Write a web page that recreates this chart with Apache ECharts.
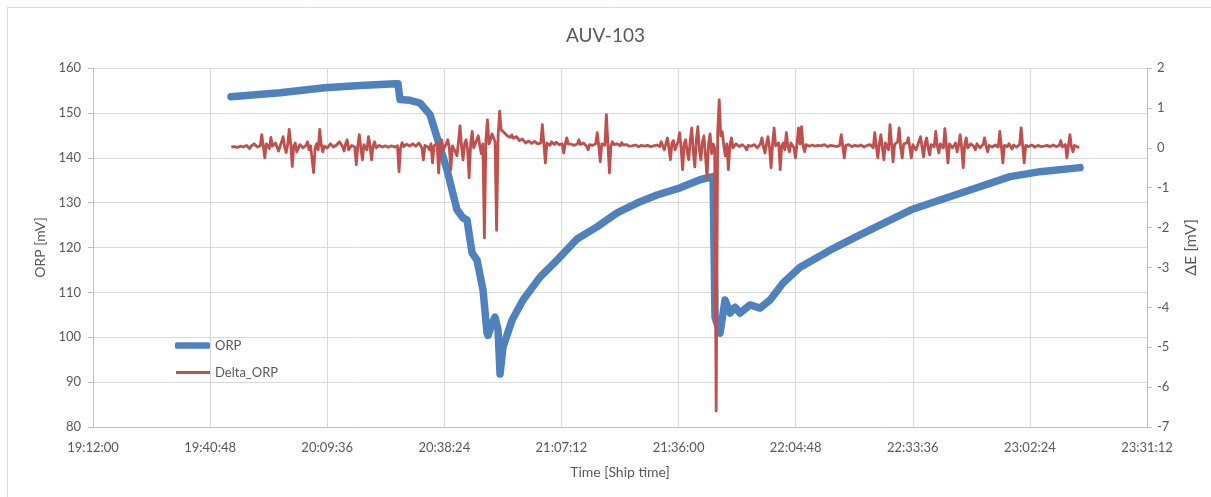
<!DOCTYPE html>
<html>
<head>
<meta charset="utf-8">
<script src="https://cdn.jsdelivr.net/npm/echarts@6/dist/echarts.min.js"></script>
<style>
html,body{margin:0;padding:0;background:#fff;}
#chart{width:1211px;height:497px;}
</style>
</head>
<body>
<div id="chart"></div>
<script>
// ---- DATA ----
const title = "AUV-103";
const xTickLabels = ["19:12:00","19:40:48","20:09:36","20:38:24","21:07:12","21:36:00","22:04:48","22:33:36","23:02:24","23:31:12"];
const leftTicks = [80, 90, 100, 110, 120, 130, 140, 150, 160];
const rightTicks = [-7, -6, -5, -4, -3, -2, -1, 0, 1, 2];

// ORP [mV] (left axis)
const orpTime = ["19:45:56","19:58:00","20:09:00","20:17:40","20:26:16","20:27:00","20:27:30","20:29:58","20:32:25","20:34:53",
  "20:39:04","20:41:31","20:43:00","20:43:59","20:45:13","20:46:26","20:47:55","20:48:54","20:49:09","20:50:08",
  "20:50:52","20:51:37","20:52:06","20:52:50","20:55:03","20:57:45","21:01:56","21:06:07","21:11:02","21:15:57",
  "21:20:52","21:25:47","21:30:43","21:36:22","21:41:17","21:44:29","21:44:58","21:46:12","21:47:26","21:48:40",
  "21:49:53","21:51:07","21:53:35","21:56:02","21:58:30","22:01:42","22:05:53","22:13:16","22:20:38","22:28:01",
  "22:33:11","22:40:19","22:47:41","22:57:32","23:04:55","23:14:45"];
const orpValue = [153.6,154.5,155.6,156.1,156.5,156.5,153.0,152.8,152.2,149.6,
  137.3,128.4,126.6,126.1,118.8,117.2,110.5,100.9,100.4,103.1,
  104.5,101.6,91.8,97.8,103.8,108.3,113.4,117.2,121.9,124.6,
  127.7,129.9,131.7,133.3,135.1,135.8,104.5,100.9,108.3,105.4,
  106.7,105.4,107.2,106.5,108.3,112.1,115.6,119.4,122.8,126.1,
  128.4,130.6,132.8,135.8,136.9,137.8];

// Delta_ORP [mV] (right axis), logged every 22.5 s from 19:46:00
const deltaStart = "19:46:00";
const deltaStepSec = 22.5;
const deltaValue = [
  0.02,0.0,0.03,0.05,0.01,0.03,0.04,0.0,0.02,0.07,0.06,0.01,-0.02,0.04,0.04,0.1,0.08,0.02,-0.03,0.05,
  0.33,0.05,-0.25,0.1,0.08,-0.02,0.26,0.04,0.0,0.12,0.1,-0.08,-0.05,0.15,0.28,0.02,-0.12,0.08,0.46,0.1,
  -0.47,0.05,0.12,-0.1,-0.05,0.08,0.1,0.0,0.0,0.06,0.15,-0.05,0.05,0.1,-0.62,0.0,0.1,-0.05,0.46,0.08,
  -0.1,0.04,0.06,0.0,0.02,0.1,0.08,0.02,-0.03,0.07,0.05,0.15,0.12,0.03,-0.08,0.1,0.2,-0.05,0.0,0.06,
  0.1,0.02,-0.42,0.05,0.33,0.0,-0.3,0.08,0.12,-0.05,0.28,0.06,-0.3,0.04,0.15,0.0,-0.05,0.06,0.08,0.02,
  0.03,0.05,0.06,0.01,0.02,0.05,0.04,0.02,0.0,0.05,-0.6,0.0,0.13,0.03,0.05,0.09,0.08,0.04,0.03,0.1,
  0.1,0.04,0.06,0.12,0.15,0.0,-0.3,0.06,0.1,0.02,-0.05,0.1,-0.38,0.05,0.05,0.12,-0.63,0.0,0.2,-0.05,
  -0.1,0.1,0.2,0.0,-0.55,0.05,0.1,-0.1,-0.2,0.15,0.55,0.05,-0.3,0.1,0.2,-0.05,-0.75,0.1,0.41,0.0,
  0.05,0.2,0.3,0.05,-0.15,0.1,-2.26,0.2,0.7,0.1,0.2,0.35,0.3,0.15,-2.07,0.3,0.92,0.45,0.4,0.38,
  0.35,0.3,0.3,0.26,0.32,0.24,0.22,0.28,0.25,0.18,0.16,0.22,0.2,0.12,0.13,0.17,0.18,0.11,0.1,0.16,
  0.15,0.1,0.05,0.12,0.58,0.1,-0.38,0.12,0.1,0.06,0.15,0.1,0.08,0.14,0.18,0.08,0.05,0.1,-0.13,0.08,
  0.25,0.1,0.05,0.09,0.12,0.06,0.02,0.1,0.2,0.08,0.05,0.12,0.1,0.04,-0.05,0.08,0.12,0.06,0.05,0.1,
  0.38,0.05,-0.35,0.1,0.1,0.06,0.83,0.1,-0.63,0.05,0.15,0.08,0.05,0.1,0.1,0.05,0.13,0.07,0.03,0.08,
  0.06,0.04,0.08,0.05,0.04,0.07,0.07,0.03,0.05,0.06,0.06,0.04,0.03,0.06,0.05,0.03,0.06,0.05,0.04,0.07,
  0.08,0.03,0.15,0.05,-0.05,0.1,0.25,0.0,-0.3,0.12,0.18,-0.05,-0.1,0.15,0.38,0.0,-0.55,0.1,0.2,-0.1,
  -0.3,0.2,0.5,-0.1,-0.48,0.2,0.53,-0.05,-0.3,0.15,0.3,-0.2,-0.75,0.1,0.35,-0.15,0.1,0.0,-6.6,0.4,
  1.2,0.3,0.4,0.05,-0.2,0.1,-0.55,0.05,0.25,0.0,0.05,0.1,0.12,0.03,0.02,0.08,0.08,0.02,-0.05,0.06,
  0.1,0.04,0.03,0.08,0.08,0.0,-0.05,0.1,0.25,0.02,-0.13,0.1,0.28,0.0,-0.5,0.1,0.5,0.05,0.0,0.12,
  -0.55,0.05,0.12,-0.05,0.38,0.05,-0.1,0.12,0.15,0.0,-0.25,0.1,0.5,0.1,0.53,0.05,-0.1,0.08,0.1,0.04,
  0.05,0.07,0.08,0.04,0.03,0.06,0.06,0.05,0.04,0.08,0.07,0.03,0.05,0.06,0.02,0.05,0.06,0.03,0.04,0.06,
  0.33,0.05,-0.25,0.06,0.05,0.08,0.08,0.03,0.03,0.06,0.06,0.04,0.04,0.07,0.07,0.02,0.02,0.06,0.05,0.08,
  0.1,0.0,0.38,0.05,-0.25,0.1,0.33,0.0,-0.3,0.12,0.1,-0.05,0.58,0.1,-0.35,0.08,0.05,0.15,0.5,0.0,
  -0.25,0.1,0.05,0.12,0.25,0.0,-0.25,0.08,0.1,-0.05,0.05,0.1,0.28,0.02,-0.23,0.1,0.25,0.0,-0.18,0.08,
  0.1,0.02,0.41,0.05,-0.13,0.1,0.15,0.0,0.48,0.05,-0.38,0.1,0.1,0.0,0.05,0.12,-0.1,0.06,0.33,0.0,
  -0.5,0.08,0.25,0.0,0.0,0.1,0.1,0.03,-0.05,0.1,0.12,0.0,0.02,0.08,0.25,0.05,-0.1,0.06,0.08,0.02,
  0.03,0.07,0.06,0.02,0.41,0.05,-0.38,0.06,0.08,0.03,0.1,0.05,-0.03,0.07,0.06,0.02,0.04,0.08,0.5,0.05,
  -0.38,0.06,0.08,0.03,0.03,0.07,0.06,0.02,0.0,0.06,0.05,0.03,0.07,0.04,0.02,0.06,0.06,0.03,0.03,0.07,
  0.08,0.03,0.0,0.06,0.18,0.02,0.05,0.08,-0.25,0.05,0.33,0.02,-0.1,0.06,0.05,0.02,0.0];

// ---- BUILD ----
function toSec(s){ const p = s.split(":").map(Number); return p[0]*3600 + p[1]*60 + (p[2]||0); }
function pad(n){ return (n<10?"0":"")+n; }
function fmt(v){ v = Math.round(v); const h=Math.floor(v/3600), m=Math.floor((v%3600)/60), s=v%60; return h+":"+pad(m)+":"+pad(s); }

const xMin = toSec(xTickLabels[0]);
const xMax = toSec(xTickLabels[xTickLabels.length-1]);
const xInterval = toSec(xTickLabels[1]) - xMin;

const orpData = orpTime.map((t,i)=>[toSec(t), orpValue[i]]);
const d0 = toSec(deltaStart);
const deltaData = deltaValue.map((v,i)=>[d0 + i*deltaStepSec, v]);

const FONT = 'Lato, "Open Sans", sans-serif';
const TXT = '#595959';
const chart = echarts.init(document.getElementById('chart'), null, {renderer:'canvas'});
chart.setOption({
  backgroundColor:'#ffffff',
  animation:false,
  textStyle:{fontFamily:FONT, color:TXT},
  title:{text:title, left:'center', top:21, textStyle:{fontFamily:FONT, fontSize:19, fontWeight:'normal', color:TXT}},
  graphic:[{type:'rect', shape:{x:7.5,y:7.5,width:1215,height:510}, style:{fill:'none', stroke:'#d9d9d9', lineWidth:1}, silent:true}],
  legend:[
    {data:[{name:'ORP', icon:'roundRect'}], left:175, top:339, padding:0, itemWidth:35, itemHeight:6.5, itemGap:0,
     textStyle:{fontFamily:FONT, fontSize:13, color:TXT}},
    {data:[{name:'Delta_ORP', icon:'rect'}], left:176, top:366, padding:0, itemWidth:34, itemHeight:2.8, itemGap:0,
     textStyle:{fontFamily:FONT, fontSize:13, color:TXT}}
  ],
  grid:{left:93, right:64, top:68, bottom:70, containLabel:false},
  xAxis:{type:'value', min:xMin, max:xMax, interval:xInterval,
    name:'Time [Ship time]', nameLocation:'middle', nameGap:38,
    nameTextStyle:{fontFamily:FONT, fontSize:14, color:TXT},
    axisLine:{show:true, onZero:false, lineStyle:{color:'#bfbfbf'}}, axisTick:{show:false},
    axisLabel:{formatter:fmt, fontFamily:FONT, fontSize:13, color:TXT, margin:14, showMinLabel:true, showMaxLabel:true},
    splitLine:{show:true, lineStyle:{color:'#d9d9d9', width:1}}},
  yAxis:[
    {type:'value', min:leftTicks[0], max:leftTicks[leftTicks.length-1], interval:leftTicks[1]-leftTicks[0],
     name:'ORP [mV]', nameLocation:'middle', nameGap:42, nameRotate:90,
     nameTextStyle:{fontFamily:FONT, fontSize:14, color:TXT},
     axisLine:{show:true, onZero:false, lineStyle:{color:'#bfbfbf'}}, axisTick:{show:true, length:5, lineStyle:{color:'#bfbfbf'}},
     axisLabel:{fontFamily:FONT, fontSize:13, color:TXT, margin:12},
     splitLine:{show:true, lineStyle:{color:'#d9d9d9', width:1}}},
    {type:'value', min:rightTicks[0], max:rightTicks[rightTicks.length-1], interval:rightTicks[1]-rightTicks[0],
     name:'ΔE [mV]', nameLocation:'middle', nameGap:36, nameRotate:90,
     nameTextStyle:{fontFamily:FONT, fontSize:16, color:TXT},
     axisLine:{show:true, onZero:false, lineStyle:{color:'#bfbfbf'}}, axisTick:{show:true, length:5, lineStyle:{color:'#bfbfbf'}},
     axisLabel:{fontFamily:FONT, fontSize:13, color:TXT, margin:10},
     splitLine:{show:false}}
  ],
  series:[
    {name:'ORP', type:'line', yAxisIndex:0, data:orpData, showSymbol:false, symbol:'none', smooth:false,
     lineStyle:{color:'#4F81BD', width:7.5, cap:'round', join:'round'}, itemStyle:{color:'#4F81BD'}, z:2},
    {name:'Delta_ORP', type:'line', yAxisIndex:1, data:deltaData, showSymbol:false, symbol:'none', smooth:false,
     lineStyle:{color:'#C0504D', width:2.8, join:'round'}, itemStyle:{color:'#C0504D'}, z:3}
  ]
});
</script>
</body>
</html>
